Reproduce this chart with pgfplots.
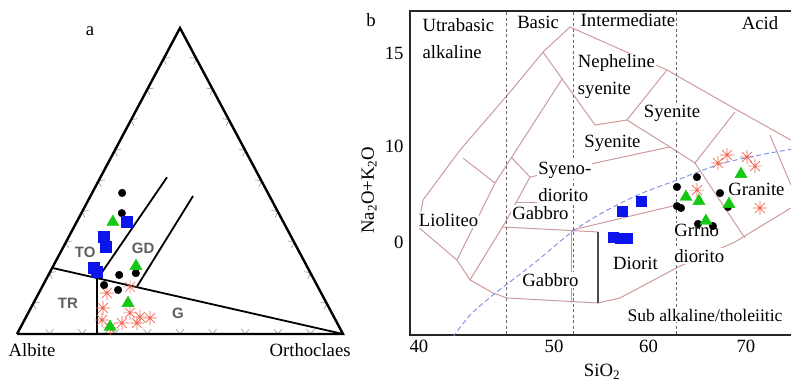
\documentclass[border=0pt]{standalone}
\usepackage{pgfplots}
\pgfplotsset{compat=1.18}
\usepackage{pgfplotstable}
\usepackage{fontspec}
\setmainfont{Liberation Serif}
\newfontfamily\zonefont{Liberation Sans}

\newcommand{\chartfont}{\fontsize{18.7}{21}\selectfont}

\definecolor{field}{RGB}{205,155,155}
\definecolor{alkline}{RGB}{120,140,225}
\definecolor{divide}{RGB}{105,105,105}
\definecolor{sqblue}{RGB}{10,20,235}
\definecolor{trigreen}{RGB}{20,200,20}
\definecolor{astred}{RGB}{240,100,80}
\definecolor{zonegray}{RGB}{95,95,95}
\definecolor{tickgray}{RGB}{165,165,165}

\tikzset{lbl/.style={font=\chartfont, fill=white, inner sep=1pt}}

% eight-ray asterisk
\pgfdeclareplotmark{spark}{%
  \pgfpathmoveto{\pgfqpoint{-\pgfplotmarksize}{0pt}}\pgfpathlineto{\pgfqpoint{\pgfplotmarksize}{0pt}}%
  \pgfpathmoveto{\pgfqpoint{0pt}{-\pgfplotmarksize}}\pgfpathlineto{\pgfqpoint{0pt}{\pgfplotmarksize}}%
  \pgfpathmoveto{\pgfqpoint{-0.707\pgfplotmarksize}{-0.707\pgfplotmarksize}}\pgfpathlineto{\pgfqpoint{0.707\pgfplotmarksize}{0.707\pgfplotmarksize}}%
  \pgfpathmoveto{\pgfqpoint{-0.707\pgfplotmarksize}{0.707\pgfplotmarksize}}\pgfpathlineto{\pgfqpoint{0.707\pgfplotmarksize}{-0.707\pgfplotmarksize}}%
  \pgfusepathqstroke}

% ---- panel a: normative feldspar, An and Or in percent (Ab = 100 - An - Or)
\pgfplotstableread{
An Or
46.1 9.2
39.5 12.4
19.3 21.7
19.9 26.5
16.0 18.7
14.4 23.8
}\terCircles
\pgfplotstableread{
An Or
36.6 15.4
31.7 10.8
28.4 13.1
21.6 12.8
20.3 14.4
}\terSquares
\pgfplotstableread{
An Or
36.6 11.1
22.2 25.4
10.1 29.0
2.3 27.4
}\terTriangles
\pgfplotstableread{
An Or
13.4 20.9
8.5 22.1
6.9 31.2
5.6 34.9
5.2 38.2
3.6 30.4
3.6 35.0
2.0 27.6
4.6 23.8
15.4 27.0
}\terStars

% ---- panel b: SiO2 versus Na2O+K2O (wt%)
\pgfplotstableread{
si alk
63.01 7.80
65.12 8.33
67.56 7.47
63.01 6.77
63.43 6.67
65.23 5.81
66.81 5.70
68.40 6.72
}\tasCircles
\pgfplotstableread{
si alk
57.19 6.51
59.20 7.04
56.23 5.11
56.97 5.05
57.71 5.05
}\tasSquares
\pgfplotstableread{
si alk
63.96 7.26
65.33 7.04
69.78 8.49
68.51 6.88
66.07 5.97
}\tasTriangles
\pgfplotstableread{
si alk
68.30 9.52
67.34 9.09
70.41 9.41
71.26 8.92
65.12 7.63
71.79 6.67
}\tasStars

\begin{document}
\begin{tikzpicture}[x=1pt,y=1pt]
\useasboundingbox (0,0) rectangle (791,383);

% ================= panel a =================
\begin{axis}[
  at={(17pt,49pt)}, anchor=south west,
  scale only axis, width=326pt, height=306pt,
  xmin=0, xmax=100, ymin=0, ymax=100,
  hide axis, clip=false,
]
% edge ticks
\pgfplotsinvokeforeach{10,20,30,40,50,60,70,80,90}{
  \draw[tickgray, line width=0.7pt] (axis cs:#1,0) ++(-4pt,5pt) -- ++(4pt,-5pt) -- ++(4pt,5pt);
}
\foreach \px/\py in {5/10,10/20,15/30,20/40,25/50,30/60,35/70,40/80,45/90}{
  \edef\tmp{\noexpand\draw[tickgray, line width=0.7pt] (axis cs:\px,\py) ++(6.29pt,1.2pt) -- ++(-6.29pt,-1.2pt) -- ++(2.55pt,-5.88pt);}
  \tmp
}
\foreach \px/\py in {95/10,90/20,85/30,80/40,75/50,70/60,65/70,60/80,55/90}{
  \edef\tmp{\noexpand\draw[tickgray, line width=0.7pt] (axis cs:\px,\py) ++(-6.3pt,1.18pt) -- ++(6.3pt,-1.18pt) -- ++(-2.54pt,-5.88pt);}
  \tmp
}
% triangle and field boundaries
\addplot[black, line width=2.4pt, line join=miter] coordinates {(0,0) (100,0) (50,100) (0,0)};
\addplot[black, line width=1.8pt] coordinates {(10.8,21.6) (100,0)};
\addplot[black, line width=1.8pt] coordinates {(24.5,0) (24.5,18.3)};
\addplot[black, line width=1.8pt] coordinates {(25.0,18.5) (46.0,51.2)};
\addplot[black, line width=1.8pt] coordinates {(36.8,15.5) (54.0,45.1)};
% samples
\addplot[only marks, mark=spark, mark size=7pt, astred, line width=0.7pt]
  table[x expr=\thisrow{Or}+0.5*\thisrow{An}, y=An] {\terStars};
\addplot[only marks, mark=*, mark size=3.8pt, black]
  table[x expr=\thisrow{Or}+0.5*\thisrow{An}, y=An] {\terCircles};
\addplot[only marks, mark=square*, mark size=5.5pt, sqblue, draw=sqblue]
  table[x expr=\thisrow{Or}+0.5*\thisrow{An}, y=An] {\terSquares};
\addplot[only marks, mark=triangle*, mark size=7pt, trigreen, draw=trigreen]
  table[x expr=\thisrow{Or}+0.5*\thisrow{An}, y=An] {\terTriangles};
% labels
\node[font=\zonefont\bfseries\fontsize{15}{17}\selectfont, zonegray] at (axis cs:20.9,26.8) {TO};
\node[font=\zonefont\bfseries\fontsize{15}{17}\selectfont, zonegray] at (axis cs:38.7,28.1) {GD};
\node[font=\zonefont\bfseries\fontsize{15}{17}\selectfont, zonegray] at (axis cs:15.6,10.1) {TR};
\node[font=\zonefont\bfseries\fontsize{15}{17}\selectfont, zonegray] at (axis cs:49.4,6.9) {G};
\node[font=\chartfont] at (axis cs:22.4,99.0) {a};
\node[font=\chartfont] at (axis cs:4.6,-5.2) {Albite};
\node[font=\chartfont] at (axis cs:89.9,-5.2) {Orthoclaes};
\end{axis}

% ================= panel b =================
\begin{axis}[
  at={(410pt,48pt)}, anchor=south west,
  scale only axis, width=385pt, height=324pt,
  xmin=34.75, xmax=75.5, ymin=-0.16, ymax=17.26,
  axis line style={line width=2.6pt, black!85},
  xtick={35.7,50,60,70.3}, xticklabels={40,50,60,70},
  ytick={4.8,10,15}, yticklabels={0,10,15},
  major tick length=0pt,
  tick label style={font=\chartfont},
  xticklabel style={yshift=-2pt},
  yticklabel style={xshift=-3pt},
  clip mode=individual,
]
% outline of the classification fields
\addplot[field, line width=1pt] coordinates {
 (75.07,10.32) (69.35,11.94) (61.95,14.09) (51.68,16.40) (48.83,15.05) (45.33,12.90)
 (40.04,9.78) (36.13,7.10) (35.60,5.65) (39.72,3.87) (41.10,2.80) (43.53,2.10)
 (45.02,1.83) (54.65,1.56) (56.97,1.83) (63.11,3.49) (69.14,4.84) (75.07,6.67)};
% internal boundaries
\addplot[field, line width=1pt] coordinates {(39.72,3.87) (43.75,8.01) (50.84,13.60)};
\addplot[field, line width=1pt] coordinates {(41.10,2.80) (44.80,5.86) (47.45,8.33)};
\addplot[field, line width=1pt] coordinates {(40.36,9.35) (43.75,8.01)};
\addplot[field, line width=1pt] coordinates {(45.44,9.41) (47.45,8.33)};
\addplot[field, line width=1pt] coordinates {(48.83,15.05) (54.33,11.13) (57.71,11.40) (61.95,14.09)};
\addplot[field, line width=1pt] coordinates {(57.71,11.40) (62.26,9.95) (64.91,9.09) (70.20,5.05)};
\addplot[field, line width=1pt] coordinates {(47.45,8.33) (57.29,9.41) (62.26,9.95)};
\addplot[field, line width=1pt] coordinates {(69.14,11.83) (64.91,9.09)};
\addplot[field, line width=1pt] coordinates {(72.85,10.59) (75.07,7.90)};
\addplot[field, line width=1pt] coordinates {(46.0,6.99) (51.68,6.99)};
\addplot[field, line width=1pt] coordinates {(51.89,5.48) (63.01,6.83)};
\addplot[field, line width=1pt] coordinates {(44.49,5.65) (54.65,5.38)};
\addplot[field, line width=1pt] coordinates {(51.89,5.48) (51.89,1.56)};
\addplot[black!70, line width=2.2pt] coordinates {(54.65,5.38) (54.65,1.56)};
% silica divisions
\addplot[divide, line width=0.9pt, dash pattern=on 3pt off 2.5pt] coordinates {(45,-1) (45,18)};
\addplot[divide, line width=0.9pt, dash pattern=on 3pt off 2.5pt] coordinates {(52,-1) (52,18)};
\addplot[divide, line width=0.9pt, dash pattern=on 3pt off 2.5pt] coordinates {(63,-1) (63,18)};
% alkaline / subalkaline divide
\addplot[alkline, line width=0.9pt, dash pattern=on 5pt off 3pt, smooth] coordinates {
 (39.30,-0.27) (41.10,0.91) (43.53,1.99) (45.86,2.90) (48.30,3.87) (51.89,5.38)
 (55.07,6.40) (59.09,7.42) (63.01,8.17) (67.56,9.03) (71.79,9.52) (75.5,9.86)};
% field names
\node[lbl, anchor=west] at (axis cs:35.95,16.51) {Utrabasic};
\node[lbl, anchor=west] at (axis cs:35.95,15.05) {alkaline};
\node[lbl] at (axis cs:48.30,16.67) {Basic};
\node[lbl] at (axis cs:57.82,16.77) {Intermediate};
\node[lbl] at (axis cs:71.79,16.61) {Acid};
\node[lbl, anchor=west] at (axis cs:52.4,14.46) {Nepheline};
\node[lbl, anchor=west] at (axis cs:52.4,13.01) {syenite};
\node[lbl] at (axis cs:62.48,11.77) {Syenite};
\node[lbl] at (axis cs:56.18,10.16) {Syenite};
\node[lbl, anchor=west] at (axis cs:48.2,8.71) {Syeno-};
\node[lbl, anchor=west] at (axis cs:48.2,7.37) {diorito};
\node[lbl] at (axis cs:48.56,6.40) {Gabbro};
\node[lbl] at (axis cs:38.83,6.02) {Lioliteo};
\node[lbl] at (axis cs:49.62,2.80) {Gabbro};
\node[lbl] at (axis cs:58.61,3.71) {Diorit};
\node[lbl, anchor=west] at (axis cs:62.6,5.48) {Grrno};
\node[lbl, anchor=west] at (axis cs:62.6,4.09) {diorito};
\node[lbl] at (axis cs:71.42,7.69) {Granite};
\node[lbl, anchor=west, font=\fontsize{17.6}{20}\selectfont] at (axis cs:57.65,0.91) {Sub alkaline/tholeiitic};
% samples
\addplot[only marks, mark=spark, mark size=7pt, astred, line width=0.7pt] table[x=si, y=alk] {\tasStars};
\addplot[only marks, mark=*, mark size=3.8pt, black] table[x=si, y=alk] {\tasCircles};
\addplot[only marks, mark=square*, mark size=5pt, sqblue, draw=sqblue] table[x=si, y=alk] {\tasSquares};
\addplot[only marks, mark=triangle*, mark size=7pt, trigreen, draw=trigreen] table[x=si, y=alk] {\tasTriangles};
% panel letter and axis titles
\node[font=\chartfont] at (axis cs:30.62,16.77) {b};
\node[font=\chartfont, rotate=90] at (axis cs:30.41,7.63) {Na\textsubscript{2}O+K\textsubscript{2}O};
\node[font=\chartfont] at (axis cs:55.07,-2.15) {SiO\textsubscript{2}};
\end{axis}
\end{tikzpicture}
\end{document}
